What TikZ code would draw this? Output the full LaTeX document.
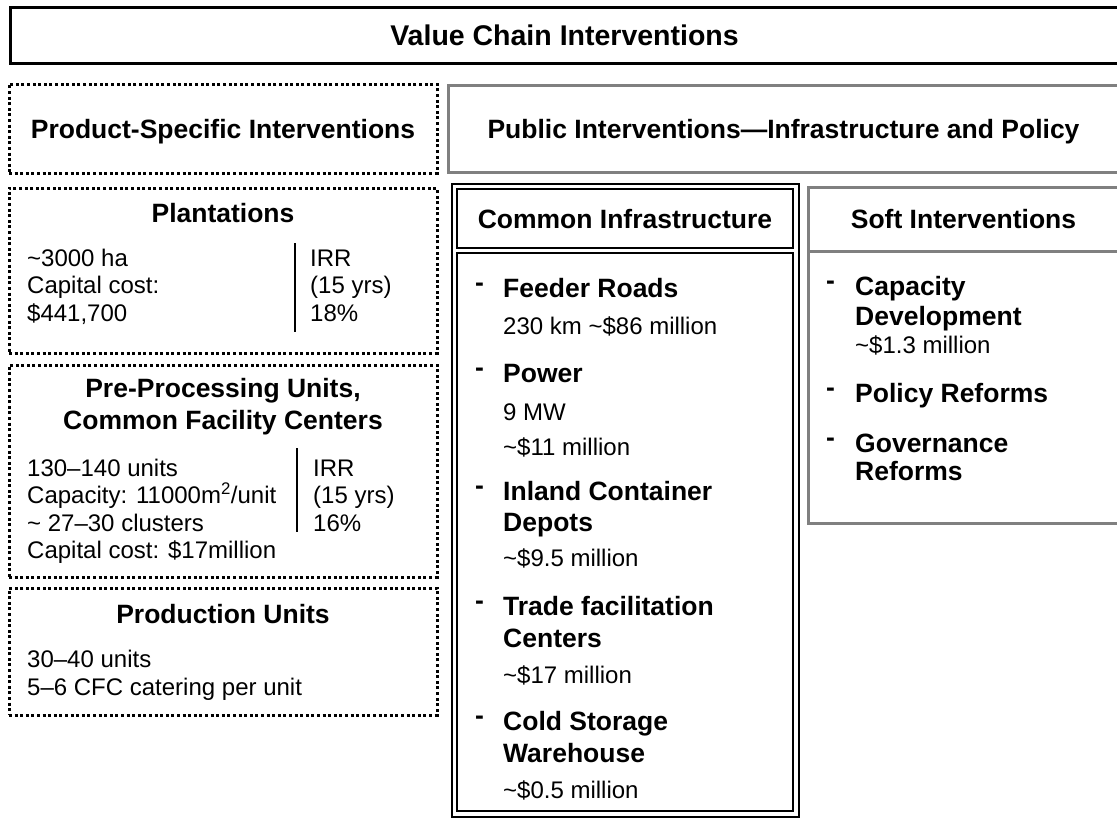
\documentclass[tikz,border=0pt]{standalone}
\usepackage{fontspec}
\setmainfont{Liberation Sans}
\usetikzlibrary{fit}
\definecolor{framegray}{RGB}{128,128,128}

\begin{document}
\begin{tikzpicture}[x=1pt,y=-1pt]
	\tikzstyle{frame} = [draw, rectangle, anchor=north west, inner sep=0pt, outer sep=0pt, text depth=0pt, text height=19pt, font={\bfseries\fontsize{26.5}{30}\selectfont}]
	\tikzstyle{dotbox} = [frame, line width=3pt, dash pattern=on 3pt off 2.6pt, minimum width=428pt]
	\tikzstyle{graybox} = [frame, draw=framegray, line width=3pt]
	\tikzstyle{head} = [font={\bfseries\fontsize{26.5}{30}\selectfont}, anchor=base, inner sep=0pt]
	\tikzstyle{item} = [head, anchor=base west]
	\tikzstyle{body} = [font={\fontsize{24}{28}\selectfont}, anchor=base west, inner sep=0pt]
	\tikzstyle{divider} = [line width=2pt]
	\useasboundingbox (0,0) rectangle (1117,819);

	% top row
	\node[frame, line width=3pt, minimum width=1109pt, minimum height=56pt, text height=20.4pt, font={\bfseries\fontsize{28.5}{32}\selectfont}] (title) at (10,7) {Value Chain Interventions};
	\node[dotbox, minimum height=89pt] (product) at (9,84) {Product-Specific Interventions};
	\node[graybox, minimum width=671pt, minimum height=87pt] (public) at (448,85) {Public Interventions---Infrastructure and Policy};

	% product-specific column
	\node[dotbox, minimum height=165pt] (plant) at (9,188) {};
	\node[dotbox, minimum height=212pt] (preproc) at (9,365) {};
	\node[dotbox, minimum height=127pt] (produnit) at (9,588) {};

	\node[head] (planthead) at (223,222) {Plantations};
	\node[body] (plant1) at (27,266) {\textasciitilde3000 ha};
	\node[body] (plant2) at (27,293.5) {Capital cost:};
	\node[body] (plant3) at (27,321) {\$441,700};
	\node[body] (plantirr1) at (310,266) {IRR};
	\node[body] (plantirr2) at (310,293.5) {(15 yrs)};
	\node[body] (plantirr3) at (310,321) {18\%};
	\draw[divider] (295,243) -- (295,332);

	\node[head] (prehead1) at (223,397) {Pre-Processing Units,};
	\node[head] (prehead2) at (223,429) {Common Facility Centers};
	\node[body] (pre1) at (27,476) {130–140 units};
	\node[body] (pre2) at (27,503.5) {Capacity: 11000m\textsuperscript{2}/unit};
	\node[body] (pre3) at (27,531) {\textasciitilde{} 27–30 clusters};
	\node[body] (pre4) at (27,558.5) {Capital cost: \$17million};
	\node[body] (preirr1) at (313,476) {IRR};
	\node[body] (preirr2) at (313,503.5) {(15 yrs)};
	\node[body] (preirr3) at (313,531) {16\%};
	\draw[divider] (297,448) -- (297,532);

	\node[head] (prodhead) at (223,623) {Production Units};
	\node[body] (prod1) at (27,667) {30–40 units};
	\node[body] (prod2) at (27,695) {5–6 CFC catering per unit};

	% common infrastructure
	\node[frame, line width=2pt, minimum width=336pt, minimum height=59pt] (cihead) at (457,189) {Common Infrastructure};
	\node[frame, line width=2pt, minimum width=336pt, minimum height=558pt] (cibody) at (457,253) {};
	\node[draw, line width=2pt, inner sep=5.5pt, fit=(cihead)(cibody)] (ciframe) {};

	\node[item] (dashroad) at (475,291) {-};
	\node[item] (road) at (503,297) {Feeder Roads};
	\node[body] (roadcost) at (503,334) {230 km \textasciitilde\$86 million};
	\node[item] (dashpower) at (475,376) {-};
	\node[item] (power) at (503,382) {Power};
	\node[body] (powermw) at (503,420) {9 MW};
	\node[body] (powercost) at (503,455) {\textasciitilde\$11 million};
	\node[item] (dashdepot) at (475,494.5) {-};
	\node[item] (depot1) at (503,500.5) {Inland Container};
	\node[item] (depot2) at (503,531.5) {Depots};
	\node[body] (depotcost) at (503,566) {\textasciitilde\$9.5 million};
	\node[item] (dashtrade) at (475,609) {-};
	\node[item] (trade1) at (503,615) {Trade facilitation};
	\node[item] (trade2) at (503,647) {Centers};
	\node[body] (tradecost) at (503,683) {\textasciitilde\$17 million};
	\node[item] (dashcold) at (475,724) {-};
	\node[item] (cold1) at (503,730) {Cold Storage};
	\node[item] (cold2) at (503,762) {Warehouse};
	\node[body] (coldcost) at (503,798) {\textasciitilde\$0.5 million};

	% soft interventions
	\node[graybox, minimum width=311pt, minimum height=64pt] (softhead) at (808,187) {Soft Interventions};
	\node[graybox, minimum width=311pt, minimum height=272pt] (softbody) at (808,251) {};

	\node[item] (dashcap) at (826,289) {-};
	\node[item] (cap1) at (855,295) {Capacity};
	\node[item] (cap2) at (855,325) {Development};
	\node[body] (capcost) at (855,353) {\textasciitilde\$1.3 million};
	\node[item] (dashpolicy) at (826,396) {-};
	\node[item] (policy) at (855,402) {Policy Reforms};
	\node[item] (dashgov) at (826,446) {-};
	\node[item] (gov1) at (855,452) {Governance};
	\node[item] (gov2) at (855,480) {Reforms};
\end{tikzpicture}
\end{document}
